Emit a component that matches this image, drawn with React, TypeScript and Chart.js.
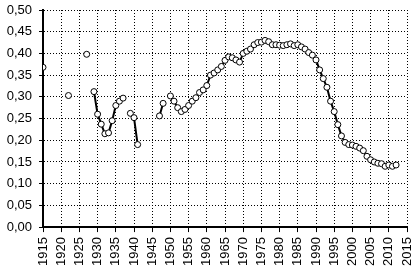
import React, { useEffect, useRef } from "react";
import { Chart, registerables } from "chart.js";

Chart.register(...registerables);

// Years (a null value breaks the line)
const years: number[] = [
  1915, 1916,
  1922, 1923,
  1927, 1928,
  1929, 1930, 1931, 1932, 1933, 1934, 1935, 1936, 1937, 1938,
  1939, 1940, 1941, 1942,
  1947, 1948, 1949,
  1950, 1951, 1952, 1953, 1954, 1955, 1956, 1957, 1958, 1959,
  1960, 1961, 1962, 1963, 1964, 1965, 1966, 1967, 1968, 1969,
  1970, 1971, 1972, 1973, 1974, 1975, 1976, 1977, 1978, 1979,
  1980, 1981, 1982, 1983, 1984, 1985, 1986, 1987, 1988, 1989,
  1990, 1991, 1992, 1993, 1994, 1995, 1996, 1997, 1998, 1999,
  2000, 2001, 2002, 2003, 2004, 2005, 2006, 2007, 2008, 2009,
  2010, 2011, 2012,
];

const shares: (number | null)[] = [
  0.368, null,
  0.303, null,
  0.398, null,
  0.312, 0.26, 0.237, 0.215, 0.217, 0.245, 0.28, 0.29, 0.297, null,
  0.262, 0.252, 0.19, null,
  0.256, 0.285, null,
  0.302, 0.29, 0.275, 0.266, 0.271, 0.28, 0.29, 0.298, 0.31, 0.316,
  0.326, 0.35, 0.355, 0.362, 0.37, 0.384, 0.392, 0.39, 0.385, 0.38,
  0.4, 0.405, 0.41, 0.42, 0.425, 0.426, 0.43, 0.427, 0.42, 0.42,
  0.419, 0.418, 0.42, 0.422, 0.418, 0.42, 0.415, 0.41, 0.402, 0.396,
  0.385, 0.362, 0.342, 0.322, 0.29, 0.266, 0.236, 0.21, 0.195, 0.19,
  0.189, 0.186, 0.182, 0.176, 0.163, 0.155, 0.15, 0.147, 0.146, 0.14,
  0.143, 0.14, 0.143,
];

const xMin = 1915;
const xMax = 2015;
const xStep = 5;
const yMin = 0;
const yMax = 0.5;
const yStep = 0.05;

export default function App() {
  const ref = useRef<HTMLCanvasElement | null>(null);

  useEffect(() => {
    if (!ref.current) return;
    const points = years.map((y, i) => ({ x: y, y: shares[i] }));
    const chart = new Chart(ref.current, {
      type: "line",
      data: {
        datasets: [
          {
            data: points as any,
            borderColor: "#000",
            borderWidth: 2,
            pointRadius: 3,
            pointBorderWidth: 1,
            pointBorderColor: "#000",
            pointBackgroundColor: "#fff",
            spanGaps: false,
            tension: 0,
          },
        ],
      },
      options: {
        animation: false,
        responsive: true,
        maintainAspectRatio: false,
        layout: { padding: { left: 0, right: 0, top: 0, bottom: 2 } },
        plugins: { legend: { display: false }, tooltip: { enabled: false } },
        scales: {
          x: {
            type: "linear",
            min: xMin,
            max: xMax,
            afterFit: (s: any) => {
              s.paddingRight = 9;
              s.paddingLeft = 0;
            },
            ticks: {
              stepSize: xStep,
              autoSkip: false,
              maxRotation: 90,
              minRotation: 90,
              padding: 5,
              color: "#000",
              font: { size: 13 },
              callback: (v: any) => String(v),
            },
            grid: { color: "#000", tickLength: 5, tickColor: "#000" },
            border: { display: true, color: "#000", width: 2, dash: [1, 2] },
          },
          y: {
            min: yMin,
            max: yMax,
            afterFit: (s: any) => {
              s.width = 43;
              s.paddingTop = 10;
            },
            ticks: {
              stepSize: yStep,
              padding: 7,
              color: "#000",
              font: { size: 13 },
              callback: (v: any) => Number(v).toFixed(2).replace(".", ","),
            },
            grid: { color: "#000", tickLength: 4, tickColor: "#000" },
            border: { display: true, color: "#000", width: 2, dash: [1, 2] },
          },
        },
      },
    } as any);
    return () => chart.destroy();
  }, []);

  return (
    <div style={{ position: "absolute", left: 0, top: 0, width: 416, height: 273, background: "#fff" }}>
      <canvas ref={ref} />
    </div>
  );
}
